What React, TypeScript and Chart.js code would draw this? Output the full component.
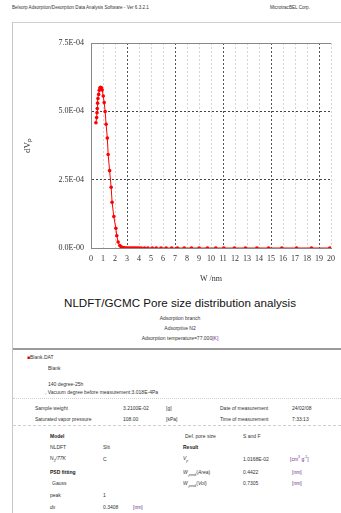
import React, { useEffect, useRef } from "react";
import { Chart, registerables } from "chart.js";

Chart.register(...registerables);

// Pore width W (nm) and differential pore volume dVp (cm3 g-1 nm-1)
const poreWidth = [
  0.41, 0.47, 0.5, 0.52, 0.55, 0.58, 0.64, 0.69, 0.74, 0.8, 0.87, 0.93, 1.02, 1.1,
  1.18, 1.26, 1.36, 1.43, 1.55, 1.68, 1.76, 1.9, 2.07, 2.15, 2.26, 2.4, 2.52, 2.65,
  2.77, 2.9, 3.02, 3.15, 3.28, 3.42, 3.56, 3.7, 3.85, 4.0, 4.19, 4.46, 4.74, 5.1,
  5.43, 5.84, 6.26, 6.72, 7.21, 7.77, 8.37, 9.01, 9.7, 10.4, 11.07, 11.95, 12.87,
  13.83, 14.8, 15.9, 17.13, 18.37, 19.9,
];
const dVp = [
  4.58e-4, 4.77e-4, 4.95e-4, 5.1e-4, 5.3e-4, 5.47e-4, 5.62e-4, 5.77e-4, 5.85e-4,
  5.88e-4, 5.86e-4, 5.78e-4, 5.56e-4, 5.32e-4, 4.99e-4, 4.53e-4, 4.02e-4, 3.42e-4,
  2.83e-4, 2.22e-4, 1.67e-4, 1.15e-4, 0.72e-4, 0.45e-4, 0.22e-4, 0.09e-4, 0.04e-4,
  0.015e-4, 0.006e-4, 0.002e-4, 0.001e-4, 0, 0, 0, 0, 0, 0, 0, 0, 0, 0, 0, 0, 0, 0,
  0, 0, 0, 0, 0, 0, 0, 0, 0, 0, 0, 0, 0, 0, 0, 0,
];
const xTicks = [0, 1, 2, 3, 4, 5, 6, 7, 8, 9, 10, 11, 12, 13, 14, 15, 16, 17, 18, 19, 20];
const yTicks = [0, 2.5e-4, 5.0e-4, 7.5e-4];

function formatExp(v: number): string {
  if (v === 0) return "0.0E-00";
  const e = Math.floor(Math.log10(Math.abs(v)) + 1e-9);
  const m = v / Math.pow(10, e);
  const sign = e < 0 ? "-" : "+";
  return m.toFixed(1) + "E" + sign + String(Math.abs(e)).padStart(2, "0");
}

const serif = "'Liberation Serif', 'Times New Roman', serif";

function PsdChart() {
  const ref = useRef<HTMLCanvasElement | null>(null);
  useEffect(() => {
    if (!ref.current) return;
    const chart = new Chart(ref.current, {
      type: "line",
      data: {
        datasets: [
          {
            data: poreWidth.map((w, i) => ({ x: w, y: dVp[i] })),
            borderColor: "#ff0000",
            backgroundColor: "#ff0000",
            borderWidth: 1,
            pointRadius: 1.8,
            pointBorderWidth: 0,
            tension: 0,
          },
        ],
      },
      options: {
        animation: false,
        responsive: false,
        maintainAspectRatio: false,
        layout: { padding: { top: 21, right: 8, left: 0, bottom: 0 } },
        plugins: { legend: { display: false }, tooltip: { enabled: false } },
        scales: {
          x: {
            type: "linear",
            min: 0,
            max: 20,
            afterFit: (s: any) => {
              s.height = 46;
            },
            afterBuildTicks: (s: any) => {
              s.ticks = xTicks.map((v) => ({ value: v }));
            },
            ticks: {
              padding: 6,
              color: "#333",
              font: { family: serif, size: 8 },
              maxRotation: 0,
              autoSkip: false,
            },
            grid: {
              drawTicks: false,
              lineWidth: 1,
              color: (ctx: any) => {
                const v = ctx.tick ? ctx.tick.value : 0;
                return v > 0 && (v - 3) % 4 === 0 ? "#555555" : "#d4d4d4";
              },
            },
            border: { color: "#888888", width: 1, dash: [2, 2] },
            title: {
              display: true,
              text: "W /nm",
              color: "#333",
              font: { family: serif, size: 8 },
              padding: { top: 0, bottom: 10 },
            },
          },
          y: {
            type: "linear",
            min: 0,
            max: 7.5e-4,
            afterFit: (s: any) => {
              s.width = 79;
            },
            afterBuildTicks: (s: any) => {
              s.ticks = yTicks.map((v) => ({ value: v }));
            },
            ticks: {
              padding: 7,
              color: "#333",
              font: { family: serif, size: 8 },
              callback: (v: any) => formatExp(Number(v)),
            },
            grid: {
              drawTicks: false,
              lineWidth: 1,
              color: (ctx: any) => {
                const v = ctx.tick ? ctx.tick.value : 0;
                return v >= 7.4e-4 ? "#888888" : "#444444";
              },
            },
            border: {
              color: "#888888",
              width: 1,
              dash: (ctx: any) => {
                const v = ctx.tick ? ctx.tick.value : 0;
                return v >= 7.4e-4 ? [] : [2, 2];
              },
            },
            title: {
              display: true,
              text: "dVₚ",
              color: "#333",
              font: { family: serif, size: 9 },
              padding: { top: 10, bottom: 0 },
            },
          },
        },
      },
    } as any);
    return () => chart.destroy();
  }, []);
  return (
    <canvas
      ref={ref}
      width={329}
      height={272}
      style={{ position: "absolute", left: 12, top: 22, width: 329, height: 272 }}
    />
  );
}

const abs = (left: number, top: number, extra: React.CSSProperties = {}): React.CSSProperties => ({
  position: "absolute",
  left,
  top,
  whiteSpace: "nowrap",
  lineHeight: 1,
  ...extra,
});

const purple = "#6b2d8f";

export default function App() {
  const small: React.CSSProperties = { fontSize: 5, color: "#333" };
  const bold: React.CSSProperties = { fontSize: 5, color: "#222", fontWeight: "bold" };
  return (
    <div
      style={{
        position: "absolute",
        left: 0,
        top: 0,
        width: 341,
        height: 513,
        overflow: "hidden",
        background: "#ffffff",
        fontFamily: "'Liberation Sans', Arial, sans-serif",
      }}
    >
      <div style={abs(12, 6, { ...small, fontSize: 4.6 })}>
        Belsorp Adsorption/Desorption Data Analysis Software - Ver 6.3.2.1
      </div>
      <div style={abs(270, 6, { ...small, fontSize: 4.6 })}>MicrotracBEL Corp.</div>

      <div
        style={{
          position: "absolute",
          left: 12,
          top: 22,
          width: 340,
          height: 325,
          borderLeft: "1px solid #c8c8c8",
          borderTop: "1px solid #cfcfcf",
          borderBottom: "2px solid #9a9a9a",
        }}
      />
      <div
        style={{
          position: "absolute",
          left: 12,
          top: 349,
          width: 1,
          height: 164,
          background: "#c8c8c8",
        }}
      />

      <PsdChart />

      <div style={abs(12, 297, { width: 336, textAlign: "center", fontSize: 11.6, color: "#111" })}>
        NLDFT/GCMC Pore size distribution analysis
      </div>
      <div style={abs(12, 315.5, { ...small, width: 336, textAlign: "center" })}>Adsorption branch</div>
      <div style={abs(12, 325.5, { ...small, width: 336, textAlign: "center" })}>Adsorptive N2</div>
      <div style={abs(12, 335.5, { ...small, width: 336, textAlign: "center" })}>
        Adsorption temperature=77.000<span style={{ color: purple }}>[K]</span>
      </div>

      <div style={abs(27, 354.5, small)}>
        <span style={{ color: "#e00000" }}>■</span>Blank.DAT
      </div>
      <div style={abs(48, 365.5, small)}>Blank</div>
      <div style={abs(48, 381.5, small)}>140 degree-25h</div>
      <div style={abs(45, 389.5, small)}>, Vacuum degree before measurement:3.018E-4Pa</div>

      <div
        style={{
          position: "absolute",
          left: 13,
          top: 398,
          width: 328,
          borderTop: "1px dotted #d0d0d0",
        }}
      />
      <div style={abs(35, 405.5, small)}>Sample weight</div>
      <div style={abs(123, 405.5, small)}>3.2100E-02</div>
      <div style={abs(166, 405.5, small)}>[g]</div>
      <div style={abs(220, 405.5, small)}>Date of measurement</div>
      <div style={abs(292, 405.5, small)}>24/02/08</div>
      <div style={abs(35, 416.5, small)}>Saturated vapor pressure</div>
      <div style={abs(123, 416.5, small)}>108.00</div>
      <div style={abs(166, 416.5, small)}>[kPa]</div>
      <div style={abs(220, 416.5, small)}>Time of measurement</div>
      <div style={abs(292, 416.5, small)}>7:33:13</div>

      <div
        style={{
          position: "absolute",
          left: 13,
          top: 425,
          width: 328,
          borderTop: "1px dashed #d0d0d0",
        }}
      />
      <div style={abs(50, 433.5, bold)}>Model</div>
      <div style={abs(185, 433.5, small)}>Def. pore size</div>
      <div style={abs(243, 433.5, small)}>S and F</div>
      <div style={abs(50, 444.5, small)}>NLDFT</div>
      <div style={abs(103, 444.5, small)}>Slit</div>
      <div style={abs(183, 444.5, bold)}>Result</div>
      <div style={abs(50, 456, small)}>
        N<sub style={{ fontSize: 3.5 }}>2</sub>
        <i>/77K</i>
      </div>
      <div style={abs(103, 456.5, small)}>C</div>
      <div style={abs(183, 456, small)}>
        <i>V</i>
        <sub style={{ fontSize: 3.5 }}>
          <i>p</i>
        </sub>
      </div>
      <div style={abs(243, 456.5, small)}>1.0168E-02</div>
      <div style={abs(290, 456, { ...small, color: purple })}>
        [cm<sup style={{ fontSize: 3.5 }}>3</sup> g<sup style={{ fontSize: 3.5 }}>-1</sup>]
      </div>
      <div style={abs(50, 469.5, bold)}>PSD fitting</div>
      <div style={abs(183, 469.5, small)}>
        <i>W</i>
        <sub style={{ fontSize: 3.5 }}>
          <i>,peak</i>
        </sub>
        (<i>Area</i>)
      </div>
      <div style={abs(243, 469.5, small)}>0.4422</div>
      <div style={abs(292, 469.5, { ...small, color: purple })}>[nm]</div>
      <div style={abs(52, 480.5, small)}>Gauss</div>
      <div style={abs(183, 480.5, small)}>
        <i>W</i>
        <sub style={{ fontSize: 3.5 }}>
          <i>,peak</i>
        </sub>
        (<i>Vol</i>)
      </div>
      <div style={abs(243, 480.5, small)}>0.7305</div>
      <div style={abs(292, 480.5, { ...small, color: purple })}>[nm]</div>
      <div style={abs(50, 492.5, small)}>peak</div>
      <div style={abs(103, 492.5, small)}>1</div>
      <div style={abs(50, 504.5, small)}>
        <i>dx</i>
      </div>
      <div style={abs(103, 504.5, small)}>0.3408</div>
      <div style={abs(133, 504.5, { ...small, color: purple })}>[nm]</div>
    </div>
  );
}
